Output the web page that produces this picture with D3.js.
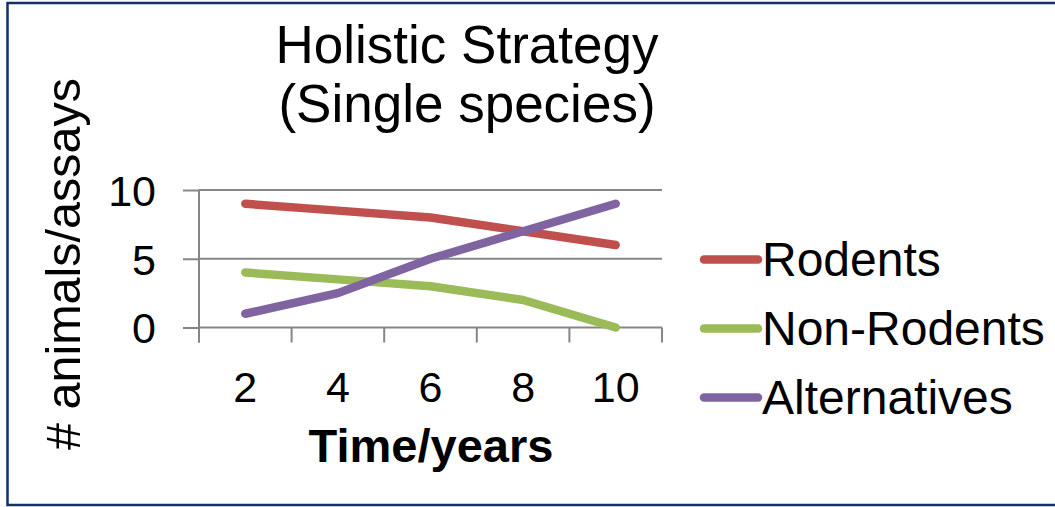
<!DOCTYPE html>
<html>
<head>
<meta charset="utf-8">
<script src="https://cdn.jsdelivr.net/npm/d3@7"></script>
<style>
  html, body { margin: 0; padding: 0; background: #fff; }
  svg { display: block; }
  text { font-family: Arial, "Liberation Sans", sans-serif; fill: #000; }
</style>
</head>
<body>
<svg id="chart" width="1055" height="507"></svg>
<script>
// ---- data ----
const categories = ["2", "4", "6", "8", "10"];
const rodents = [9, 8.5, 8, 7, 6];
const nonRodents = [4, 3.5, 3, 2, 0];
const alternatives = [1, 2.5, 5, 7, 9];
const seriesNames = ["Rodents", "Non-Rodents", "Alternatives"];
const seriesColors = ["#C0504D", "#9BBB59", "#8064A2"];
const yTicks = [0, 5, 10];
const titleLines = ["Holistic Strategy", "(Single species)"];
const xTitle = "Time/years";
const yTitle = "# animals/assays";

const series = [rodents, nonRodents, alternatives].map((v, i) => ({
  name: seriesNames[i], color: seriesColors[i], values: v
}));

// ---- layout ----
const W = 1055, H = 507;
const plot = { left: 199, right: 662, top: 190, bottom: 327.5 };
const gridColor = "#868686";

const svg = d3.select("#chart");

// outer border (right side runs off the picture)
svg.append("path")
  .attr("d", `M${W + 5},3 L7.5,3 L7.5,505 L${W + 5},505`)
  .attr("fill", "none")
  .attr("stroke", "#112F6B")
  .attr("stroke-width", 2.5);

const x = d3.scaleBand().domain(categories).range([plot.left, plot.right]).padding(0);
const y = d3.scaleLinear().domain([0, 10]).range([plot.bottom, plot.top]);
const xc = d => x(d) + x.bandwidth() / 2;

// horizontal gridlines + y ticks
const yAxis = d3.axisLeft(y).tickValues(yTicks).tickSize(16).tickPadding(27).tickFormat(d3.format("d"));
const gy = svg.append("g").attr("transform", `translate(${plot.left},0)`).call(yAxis);
gy.select(".domain").remove();
gy.selectAll(".tick line").attr("stroke", gridColor).attr("stroke-width", 2);
gy.selectAll(".tick text").attr("font-size", 43).attr("dy", "0.36em")
  .style("font-family", "Arial, 'Liberation Sans', sans-serif").attr("fill", "#000");

svg.append("g").selectAll("line").data(yTicks).join("line")
  .attr("x1", plot.left).attr("x2", plot.right)
  .attr("y1", d => y(d)).attr("y2", d => y(d))
  .attr("stroke", gridColor).attr("stroke-width", 2);

// y axis line
svg.append("line")
  .attr("x1", plot.left).attr("x2", plot.left)
  .attr("y1", y(10)).attr("y2", plot.bottom + 15)
  .attr("stroke", gridColor).attr("stroke-width", 2);

// x axis: labels at band centres, ticks at band edges
const xAxis = d3.axisBottom(x).tickSize(0).tickPadding(44);
const gx = svg.append("g").attr("transform", `translate(0,${plot.bottom})`).call(xAxis);
gx.select(".domain").remove();
gx.selectAll(".tick text").attr("font-size", 43)
  .style("font-family", "Arial, 'Liberation Sans', sans-serif").attr("fill", "#000");

const edges = categories.map(c => x(c)).concat([x(categories[categories.length - 1]) + x.bandwidth()]);
svg.append("g").selectAll("line").data(edges).join("line")
  .attr("x1", d => d).attr("x2", d => d)
  .attr("y1", plot.bottom).attr("y2", plot.bottom + 15)
  .attr("stroke", gridColor).attr("stroke-width", 2);

// series lines
const line = d3.line().x((d, i) => xc(categories[i])).y(d => y(d));
svg.append("g").selectAll("path").data(series).join("path")
  .attr("d", d => line(d.values))
  .attr("fill", "none")
  .attr("stroke", d => d.color)
  .attr("stroke-width", 8.5)
  .attr("stroke-linecap", "round")
  .attr("stroke-linejoin", "round");

// title
svg.append("text")
  .attr("x", 467).attr("y", 63)
  .attr("text-anchor", "middle").attr("font-size", 53)
  .selectAll("tspan").data(titleLines).join("tspan")
  .attr("x", 467).attr("dy", (d, i) => i === 0 ? 0 : 59)
  .text(d => d);

// axis titles
svg.append("text")
  .attr("x", 431).attr("y", 462)
  .attr("text-anchor", "middle").attr("font-size", 47).attr("font-weight", "bold")
  .text(xTitle);

svg.append("text")
  .attr("transform", "translate(80,264) rotate(-90)")
  .attr("text-anchor", "middle").attr("font-size", 48.5)
  .text(yTitle);

// legend
const legend = svg.append("g").selectAll("g").data(series).join("g")
  .attr("transform", (d, i) => `translate(700,${259.5 + i * 69})`);
legend.append("line")
  .attr("x1", 4).attr("x2", 58).attr("y1", 0).attr("y2", 0)
  .attr("stroke", d => d.color).attr("stroke-width", 8.5).attr("stroke-linecap", "round");
legend.append("text")
  .attr("x", 62).attr("y", 0).attr("dy", "0.35em")
  .attr("font-size", 48)
  .text(d => d.name);
</script>
</body>
</html>
